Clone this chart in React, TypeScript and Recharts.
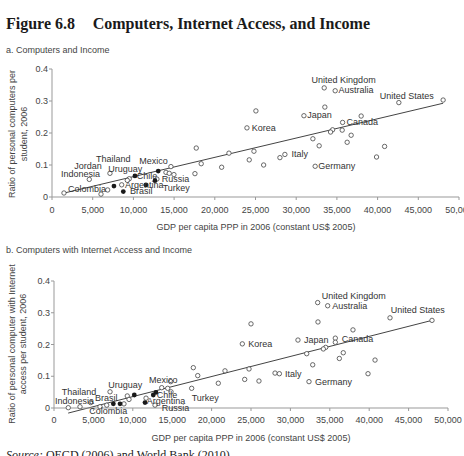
import React from 'react';
import { ScatterChart, Scatter, XAxis, YAxis, ReferenceLine } from 'recharts';

const gdpTicks = [0, 5000, 10000, 15000, 20000, 25000, 30000, 35000, 40000, 45000, 50000];
const ratioTicks = [0, 0.1, 0.2, 0.3, 0.4];

// panel a: computers per student
const computersOpen = [
  { gdp: 33440, ratio: 0.341 }, { gdp: 34790, ratio: 0.332 }, { gdp: 48050, ratio: 0.303 },
  { gdp: 42610, ratio: 0.295 }, { gdp: 33520, ratio: 0.281 }, { gdp: 25050, ratio: 0.269 },
  { gdp: 30950, ratio: 0.254 }, { gdp: 37980, ratio: 0.253 }, { gdp: 35700, ratio: 0.233 },
  { gdp: 23950, ratio: 0.216 }, { gdp: 34470, ratio: 0.21 }, { gdp: 34220, ratio: 0.203 },
  { gdp: 35650, ratio: 0.209 }, { gdp: 36750, ratio: 0.193 }, { gdp: 32050, ratio: 0.182 },
  { gdp: 36260, ratio: 0.171 }, { gdp: 32820, ratio: 0.16 }, { gdp: 40860, ratio: 0.158 },
  { gdp: 39870, ratio: 0.125 }, { gdp: 28610, ratio: 0.133 }, { gdp: 28000, ratio: 0.123 },
  { gdp: 32330, ratio: 0.096 }, { gdp: 17720, ratio: 0.153 }, { gdp: 21740, ratio: 0.137 },
  { gdp: 24810, ratio: 0.143 }, { gdp: 18330, ratio: 0.104 }, { gdp: 24230, ratio: 0.116 },
  { gdp: 26000, ratio: 0.1 }, { gdp: 20840, ratio: 0.093 }, { gdp: 17560, ratio: 0.073 },
  { gdp: 14610, ratio: 0.095 }, { gdp: 14000, ratio: 0.077 }, { gdp: 14400, ratio: 0.074 },
  { gdp: 14980, ratio: 0.07 }, { gdp: 7120, ratio: 0.074 }, { gdp: 4580, ratio: 0.055 },
  { gdp: 9490, ratio: 0.057 }, { gdp: 9250, ratio: 0.052 }, { gdp: 12890, ratio: 0.056 },
  { gdp: 8560, ratio: 0.038 }, { gdp: 6840, ratio: 0.022 }, { gdp: 6020, ratio: 0.009 },
  { gdp: 1470, ratio: 0.0125 },
];
const computersFilled = [
  { gdp: 13050, ratio: 0.081 }, { gdp: 10190, ratio: 0.066 }, { gdp: 12650, ratio: 0.051 },
  { gdp: 11540, ratio: 0.0375 }, { gdp: 7610, ratio: 0.034 }, { gdp: 8760, ratio: 0.017 },
];
const computersTrend = [{ gdp: 1600, ratio: 0.013 }, { gdp: 48050, ratio: 0.293 }];
const computersLabels = [
  { name: 'United Kingdom', gdp: 33440, ratio: 0.341 },
  { name: 'Australia', gdp: 34790, ratio: 0.332 },
  { name: 'United States', gdp: 42610, ratio: 0.295 },
  { name: 'Japan', gdp: 30950, ratio: 0.254 },
  { name: 'Canada', gdp: 35700, ratio: 0.233 },
  { name: 'Korea', gdp: 23950, ratio: 0.216 },
  { name: 'Italy', gdp: 28610, ratio: 0.133 },
  { name: 'Germany', gdp: 32330, ratio: 0.096 },
  { name: 'Thailand', gdp: 7120, ratio: 0.074 },
  { name: 'Jordan', gdp: 4580, ratio: 0.055 },
  { name: 'Indonesia', gdp: 4580, ratio: 0.055 },
  { name: 'Uruguay', gdp: 9490, ratio: 0.057 },
  { name: 'Mexico', gdp: 13050, ratio: 0.081 },
  { name: 'Chile', gdp: 10190, ratio: 0.066 },
  { name: 'Russia', gdp: 12650, ratio: 0.051 },
  { name: 'Argentina', gdp: 11540, ratio: 0.0375 },
  { name: 'Turkey', gdp: 11540, ratio: 0.0375 },
  { name: 'Brasil', gdp: 8760, ratio: 0.017 },
  { name: 'Colombia', gdp: 1470, ratio: 0.0125 },
];

// panel b: computers with internet access per student
const internetOpen = [
  { gdp: 33460, ratio: 0.332 }, { gdp: 34730, ratio: 0.322 }, { gdp: 42640, ratio: 0.284 },
  { gdp: 47970, ratio: 0.276 }, { gdp: 33500, ratio: 0.271 }, { gdp: 25000, ratio: 0.265 },
  { gdp: 37940, ratio: 0.246 }, { gdp: 23900, ratio: 0.202 }, { gdp: 30960, ratio: 0.214 },
  { gdp: 35700, ratio: 0.22 }, { gdp: 35700, ratio: 0.207 }, { gdp: 34480, ratio: 0.191 },
  { gdp: 34180, ratio: 0.186 }, { gdp: 36710, ratio: 0.174 }, { gdp: 32070, ratio: 0.171 },
  { gdp: 36210, ratio: 0.156 }, { gdp: 40740, ratio: 0.151 }, { gdp: 32830, ratio: 0.136 },
  { gdp: 39850, ratio: 0.108 }, { gdp: 28050, ratio: 0.11 }, { gdp: 28600, ratio: 0.108 },
  { gdp: 32360, ratio: 0.083 }, { gdp: 24750, ratio: 0.123 }, { gdp: 24200, ratio: 0.09 },
  { gdp: 26010, ratio: 0.085 }, { gdp: 17680, ratio: 0.127 }, { gdp: 18240, ratio: 0.102 },
  { gdp: 21700, ratio: 0.117 }, { gdp: 20850, ratio: 0.078 }, { gdp: 17470, ratio: 0.062 },
  { gdp: 14810, ratio: 0.083 }, { gdp: 13670, ratio: 0.064 }, { gdp: 14430, ratio: 0.062 },
  { gdp: 14850, ratio: 0.051 }, { gdp: 11680, ratio: 0.031 }, { gdp: 12820, ratio: 0.009 },
  { gdp: 7110, ratio: 0.051 }, { gdp: 9300, ratio: 0.038 }, { gdp: 9520, ratio: 0.027 },
  { gdp: 6690, ratio: 0.009 }, { gdp: 5840, ratio: 0.004 }, { gdp: 4660, ratio: 0.017 },
  { gdp: 3300, ratio: 0.004 }, { gdp: 1810, ratio: 0.001 }, { gdp: 8880, ratio: 0.013 },
];
const internetFilled = [
  { gdp: 10190, ratio: 0.041 }, { gdp: 12940, ratio: 0.049 }, { gdp: 12600, ratio: 0.041 },
  { gdp: 11550, ratio: 0.017 }, { gdp: 7530, ratio: 0.013 }, { gdp: 8380, ratio: 0.013 },
];
const internetTrend = [{ gdp: 1800, ratio: -0.016 }, { gdp: 47970, ratio: 0.276 }];
const internetLabels = [
  { name: 'United Kingdom', gdp: 33460, ratio: 0.332 },
  { name: 'Australia', gdp: 34730, ratio: 0.322 },
  { name: 'United States', gdp: 42640, ratio: 0.284 },
  { name: 'Korea', gdp: 23900, ratio: 0.202 },
  { name: 'Japan', gdp: 30960, ratio: 0.214 },
  { name: 'Canada', gdp: 35700, ratio: 0.22 },
  { name: 'Italy', gdp: 28600, ratio: 0.108 },
  { name: 'Germany', gdp: 32360, ratio: 0.083 },
  { name: 'Thailand', gdp: 4660, ratio: 0.017 },
  { name: 'Indonesia', gdp: 4660, ratio: 0.017 },
  { name: 'Brasil', gdp: 7530, ratio: 0.013 },
  { name: 'Colombia', gdp: 7530, ratio: 0.013 },
  { name: 'Uruguay', gdp: 7110, ratio: 0.051 },
  { name: 'Mexico', gdp: 14810, ratio: 0.083 },
  { name: 'Chile', gdp: 12940, ratio: 0.049 },
  { name: 'Argentina', gdp: 11550, ratio: 0.017 },
  { name: 'Russia', gdp: 12820, ratio: 0.009 },
  { name: 'Turkey', gdp: 17470, ratio: 0.062 },
];

// label text offsets from the point, in px (start of text, baseline)
const offsetsA: Record<string, [number, number]> = {
  'United Kingdom': [-12.6, -4.7], Australia: [3.4, 2.6], 'United States': [-19, -3.4],
  Japan: [3.3, 2.6], Canada: [4, 2.7], Korea: [4.7, 2.7], Italy: [6.7, 3], Germany: [3, 3],
  Thailand: [-14, -11.6], Jordan: [-15, -10], Indonesia: [-28.3, -2.6], Uruguay: [-21, -7],
  Mexico: [-19, -6.7], Chile: [1.7, 3.3], Russia: [6.7, 1.6], Argentina: [-21, 3.3],
  Turkey: [16.7, 6], Brasil: [6.7, 2.6], Colombia: [4, -1],
};
const offsetsB: Record<string, [number, number]> = {
  'United Kingdom': [4, -3.7], Australia: [4.6, 3.6], 'United States': [0.7, -4.4],
  Korea: [6, 2.7], Japan: [6, 3.3], Canada: [6.4, 4.3], Italy: [5.7, 3], Germany: [6, 3.6],
  Thailand: [-29, -7.7], Indonesia: [-35.7, 1.3], Brasil: [-18.3, -3.3], Colombia: [-24, 10],
  Uruguay: [-1.7, -3.4], Mexico: [-21.7, 1.6], Chile: [0.7, 6], Argentina: [1.7, 1.3],
  Russia: [6.7, 5.7], Turkey: [0, 12.4],
};

const openDot = (p: any) => (
  <circle cx={p.cx} cy={p.cy} r={2.2} fill="#fff" stroke="#444" strokeWidth={0.8} />
);
const filledDot = (p: any) => <circle cx={p.cx} cy={p.cy} r={2.4} fill="#1a1a1a" />;
const labelShape = (offsets: Record<string, [number, number]>) => (p: any) => {
  const [dx, dy] = offsets[p.payload.name] || [4, 3];
  return (
    <text x={p.cx + dx} y={p.cy + dy} fontSize={9} fill="#333">
      {p.payload.name}
    </text>
  );
};

const fmt = (v: number) => v.toLocaleString('en-US');

interface PanelProps {
  top: number;
  margin: { top: number; right: number; bottom: number; left: number };
  yWidth: number;
  xHeight: number;
  tickMargin: number;
  open: { gdp: number; ratio: number }[];
  filled: { gdp: number; ratio: number }[];
  trend: { gdp: number; ratio: number }[];
  labels: { name: string; gdp: number; ratio: number }[];
  offsets: Record<string, [number, number]>;
}

const Panel: React.FC<PanelProps> = ({ top, margin, yWidth, xHeight, tickMargin, open, filled, trend, labels, offsets }) => (
  <div style={{ position: 'absolute', left: 0, top }}>
    <ScatterChart width={464} height={160} margin={margin}>
      <XAxis
        type="number" dataKey="gdp" domain={[0, 50000]} ticks={gdpTicks} interval={0}
        height={xHeight} tickSize={3} tickMargin={tickMargin} tickFormatter={fmt}
        tick={{ fontSize: 9, fill: '#444' }} axisLine={{ stroke: '#999' }} tickLine={{ stroke: '#999' }}
      />
      <YAxis
        type="number" dataKey="ratio" domain={[0, 0.4]} ticks={ratioTicks} interval={0}
        width={yWidth} tickSize={3} tickMargin={1}
        tick={{ fontSize: 9, fill: '#444' }} axisLine={{ stroke: '#999' }} tickLine={{ stroke: '#999' }}
      />
      <ReferenceLine
        segment={[{ x: trend[0].gdp, y: trend[0].ratio }, { x: trend[1].gdp, y: trend[1].ratio }]}
        stroke="#444" strokeWidth={1} ifOverflow="visible"
      />
      <Scatter data={open} shape={openDot} isAnimationActive={false} />
      <Scatter data={filled} shape={filledDot} isAnimationActive={false} />
      <Scatter data={labels} shape={labelShape(offsets)} isAnimationActive={false} />
    </ScatterChart>
  </div>
);

const sans = '"Liberation Sans", Arial, sans-serif';
const serif = '"Liberation Serif", "Times New Roman", serif';

export default function App() {
  return (
    <div style={{ position: 'absolute', left: 0, top: 0, width: 464, height: 456, overflow: 'hidden', background: '#fff', fontFamily: sans }}>
      <svg width={464} height={456} style={{ position: 'absolute', left: 0, top: 0 }}>
        <text x={6} y={28.5} fontFamily={serif} fontWeight="bold" fontSize={16} fill="#1a1a1a">Figure 6.8</text>
        <text x={92.7} y={28.5} fontFamily={serif} fontWeight="bold" fontSize={16} fill="#1a1a1a">
          Computers, Internet Access, and Income
        </text>
        <text x={6} y={53} fontSize={9} fill="#444">a. Computers and Income</text>
        <text transform="translate(15,134) rotate(-90)" textAnchor="middle" fontSize={9} fill="#444">
          Ratio of personal computers per
        </text>
        <text transform="translate(27,134) rotate(-90)" textAnchor="middle" fontSize={9} fill="#444">
          student, 2006
        </text>
        <text x={256} y={230} textAnchor="middle" fontSize={9} fill="#444">
          GDP per capita PPP in 2006 (constant US$ 2005)
        </text>
        <text x={6} y={253} fontSize={9} fill="#444">b. Computers with Internet Access and Income</text>
        <text transform="translate(15,344) rotate(-90)" textAnchor="middle" fontSize={9} fill="#444">
          Ratio of personal computer with Internet
        </text>
        <text transform="translate(25.5,344) rotate(-90)" textAnchor="middle" fontSize={9} fill="#444">
          access per student, 2006
        </text>
        <text x={251} y={441} textAnchor="middle" fontSize={9} fill="#444">
          GDP per capita PPP in 2006 (constant US$ 2005)
        </text>
        <text x={6} y={459} fontFamily={serif} fontSize={12} fill="#222">
          <tspan fontStyle="italic">Source:</tspan> OECD (2006) and World Bank (2010)
        </text>
      </svg>
      <Panel
        top={60} margin={{ top: 9, right: 5, bottom: 0, left: 0 }} yWidth={52} xHeight={23} tickMargin={7}
        open={computersOpen} filled={computersFilled} trend={computersTrend}
        labels={computersLabels} offsets={offsetsA}
      />
      <Panel
        top={270} margin={{ top: 11, right: 16, bottom: 0, left: 0 }} yWidth={54} xHeight={22} tickMargin={6}
        open={internetOpen} filled={internetFilled} trend={internetTrend}
        labels={internetLabels} offsets={offsetsB}
      />
    </div>
  );
}
